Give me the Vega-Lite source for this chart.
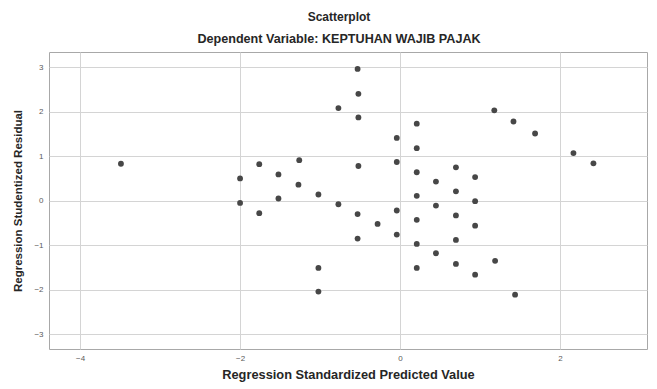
{
  "$schema": "https://vega.github.io/schema/vega-lite/v6.json",
  "width": 598,
  "height": 297,
  "autosize": "none",
  "padding": {"left": 49, "top": 52, "right": 10, "bottom": 40},
  "background": "white",
  "title": {
    "text": "Scatterplot",
    "subtitle": "Dependent Variable: KEPTUHAN WAJIB PAJAK",
    "anchor": "middle",
    "dx": -9,
    "offset": 5,
    "font": "Liberation Sans",
    "fontSize": 12,
    "fontWeight": "bold",
    "color": "#262626",
    "subtitleFont": "Liberation Sans",
    "subtitleFontSize": 12.6,
    "subtitleFontWeight": "bold",
    "subtitleColor": "#262626",
    "subtitlePadding": 9
  },
  "config": {
    "view": {"stroke": "#a8a8a8", "strokeWidth": 1},
    "font": "Liberation Sans"
  },
  "data": {
    "values": [
      {"x": -3.49, "y": 0.83},
      {"x": -2.0, "y": 0.5},
      {"x": -2.0, "y": -0.05},
      {"x": -1.76, "y": 0.82},
      {"x": -1.76, "y": -0.28},
      {"x": -1.52, "y": 0.59},
      {"x": -1.52, "y": 0.05},
      {"x": -1.26, "y": 0.91},
      {"x": -1.27, "y": 0.36},
      {"x": -1.02, "y": 0.14},
      {"x": -1.02, "y": -1.51},
      {"x": -1.02, "y": -2.04},
      {"x": -0.77, "y": 2.08},
      {"x": -0.77, "y": -0.08},
      {"x": -0.53, "y": 2.96},
      {"x": -0.52, "y": 2.4},
      {"x": -0.52, "y": 1.87},
      {"x": -0.52, "y": 0.78},
      {"x": -0.53, "y": -0.3},
      {"x": -0.53, "y": -0.85},
      {"x": -0.28, "y": -0.52},
      {"x": -0.04, "y": 1.41},
      {"x": -0.04, "y": 0.87},
      {"x": -0.04, "y": -0.22},
      {"x": -0.04, "y": -0.76},
      {"x": 0.21, "y": 1.73},
      {"x": 0.21, "y": 1.18},
      {"x": 0.21, "y": 0.64},
      {"x": 0.21, "y": 0.11},
      {"x": 0.21, "y": -0.43},
      {"x": 0.21, "y": -0.97},
      {"x": 0.21, "y": -1.51},
      {"x": 0.45, "y": 0.43},
      {"x": 0.45, "y": -0.11},
      {"x": 0.45, "y": -1.18},
      {"x": 0.7, "y": 0.75},
      {"x": 0.7, "y": 0.21},
      {"x": 0.7, "y": -0.33},
      {"x": 0.7, "y": -0.88},
      {"x": 0.7, "y": -1.42},
      {"x": 0.94, "y": 0.53},
      {"x": 0.94, "y": -0.01},
      {"x": 0.94, "y": -0.56},
      {"x": 0.94, "y": -1.66},
      {"x": 1.18, "y": 2.03},
      {"x": 1.19, "y": -1.35},
      {"x": 1.42, "y": 1.78},
      {"x": 1.44, "y": -2.11},
      {"x": 1.69, "y": 1.51},
      {"x": 2.17, "y": 1.07},
      {"x": 2.42, "y": 0.84}
    ]
  },
  "mark": {"type": "circle", "size": 34, "color": "#474747", "opacity": 1},
  "encoding": {
    "x": {
      "field": "x",
      "type": "quantitative",
      "scale": {"domain": [-4.39, 3.09], "nice": false, "zero": false},
      "axis": {
        "title": "Regression Standardized Predicted Value",
        "values": [-4, -2, 0, 2],
        "grid": true,
        "gridColor": "#d4d4d4",
        "gridWidth": 1,
        "domain": false,
        "ticks": false,
        "labelFontSize": 8,
        "labelColor": "#5a5a5a",
        "labelPadding": 5,
        "titleFontSize": 12.8,
        "titleFontWeight": "bold",
        "titleColor": "#262626",
        "titlePadding": 6
      }
    },
    "y": {
      "field": "y",
      "type": "quantitative",
      "scale": {"domain": [-3.33, 3.34], "nice": false, "zero": false},
      "axis": {
        "title": "Regression Studentized Residual",
        "values": [-3, -2, -1, 0, 1, 2, 3],
        "grid": true,
        "gridColor": "#d4d4d4",
        "gridWidth": 1,
        "domain": false,
        "ticks": false,
        "labelFontSize": 8,
        "labelColor": "#5a5a5a",
        "labelPadding": 6,
        "titleFontSize": 11.5,
        "titleFontWeight": "bold",
        "titleColor": "#262626",
        "titlePadding": 10
      }
    }
  }
}
